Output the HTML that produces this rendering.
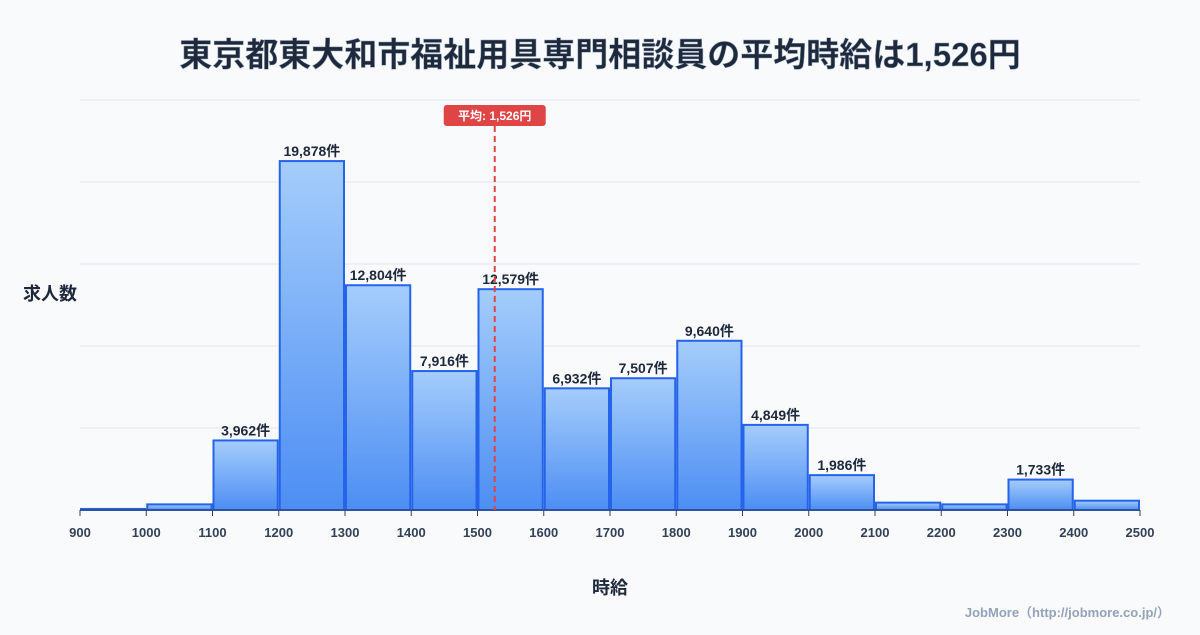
<!DOCTYPE html>
<html><head><meta charset="utf-8"><style>
body{margin:0;background:#f8fafc;font-family:"Liberation Sans","Noto Sans CJK JP",sans-serif;}
svg text{font-family:"Liberation Sans","Noto Sans CJK JP",sans-serif;}
</style></head><body>
<svg id="c" width="1200" height="630" viewBox="0 0 1200 630">
<defs><linearGradient id="g" x1="0" y1="0" x2="0" y2="1"><stop offset="0" stop-color="#a5cdfb"/><stop offset="1" stop-color="#4d8ef3"/></linearGradient></defs>
<text x="600" y="66" text-anchor="middle" font-size="33" font-weight="bold" fill="#1e293b" stroke="#94a3b8" stroke-width="0.5">東京都東大和市福祉用具専門相談員の平均時給は1,526円</text>
<text x="50" y="300" text-anchor="middle" font-size="18" font-weight="bold" fill="#1e293b">求人数</text>
<text x="610" y="594" text-anchor="middle" font-size="18" font-weight="bold" fill="#1e293b">時給</text>
<text x="1170" y="617" text-anchor="end" font-size="13" font-weight="bold" fill="#94a3b8">JobMore（http://jobmore.co.jp/）</text>
<g id="grid"></g><g id="bars"></g><g id="axis"></g><g id="mean"></g>
</svg>
<script>
const binStarts=[900,1000,1100,1200,1300,1400,1500,1600,1700,1800,1900,2000,2100,2200,2300,2400];
const counts=[60,320,3962,19878,12804,7916,12579,6932,7507,9640,4849,1986,420,320,1733,530];
const showLabel=[false,false,true,true,true,true,true,true,true,true,true,true,false,false,true,false];
const xTicks=[900,1000,1100,1200,1300,1400,1500,1600,1700,1800,1900,2000,2100,2200,2300,2400,2500];
const meanValue=1526;
const yMax=23357;
const NS="http://www.w3.org/2000/svg";
const x0=80,x1=1140,yb=510,yt=100;
const xs=v=>x0+(v-900)/(2500-900)*(x1-x0);
const ys=v=>yb-v/yMax*(yb-yt);
function mk(t,a,p){const e=document.createElementNS(NS,t);for(const k in a)e.setAttribute(k,a[k]);p.appendChild(e);return e;}
const grid=document.getElementById('grid'),bars=document.getElementById('bars'),axis=document.getElementById('axis'),mean=document.getElementById('mean');
for(let i=0;i<=5;i++){const y=yb-i*(yb-yt)/5;const l=mk('line',{x1:x0,x2:x1,y1:y,y2:y,stroke:'#e2e8f0','stroke-width':1},grid);

}
binStarts.forEach((b,i)=>{const xa=xs(b),xb=xs(b+100),y=ys(counts[i]);
const r=mk('rect',{x:xa+1,y:y,width:xb-xa-2,height:yb-y,fill:'url(#g)',stroke:'#2563eb','stroke-width':2},bars);


if(showLabel[i]){const t=mk('text',{x:(xa+xb)/2,y:y-5,'text-anchor':'middle','font-size':14,'font-weight':'bold',fill:'#1e293b'},bars);t.textContent=counts[i].toLocaleString('en-US')+'件';

}});
const ax=mk('line',{x1:x0,x2:x1,y1:yb,y2:yb,stroke:'#334155','stroke-width':1},axis);


xTicks.forEach(v=>{const x=xs(v);mk('line',{x1:x,x2:x,y1:yb,y2:yb+6,stroke:'#334155'},axis);
const t=mk('text',{x:x,y:537,'text-anchor':'middle','font-size':13,'font-weight':'bold',fill:'#334155'},axis);t.textContent=v;

});
const mx=xs(meanValue);
const ml=mk('line',{x1:mx,x2:mx,y1:126,y2:yb,stroke:'#e04545','stroke-width':2,'stroke-dasharray':'6,4'},mean);


const mb=mk('rect',{x:mx-51,y:105,width:102,height:21,rx:3,fill:'#e04545'},mean);


const mt=mk('text',{x:mx,y:120,'text-anchor':'middle','font-size':12,'font-weight':'bold',fill:'#fff'},mean);mt.textContent='平均: '+meanValue.toLocaleString('en-US')+'円';


</script>
</body></html>
